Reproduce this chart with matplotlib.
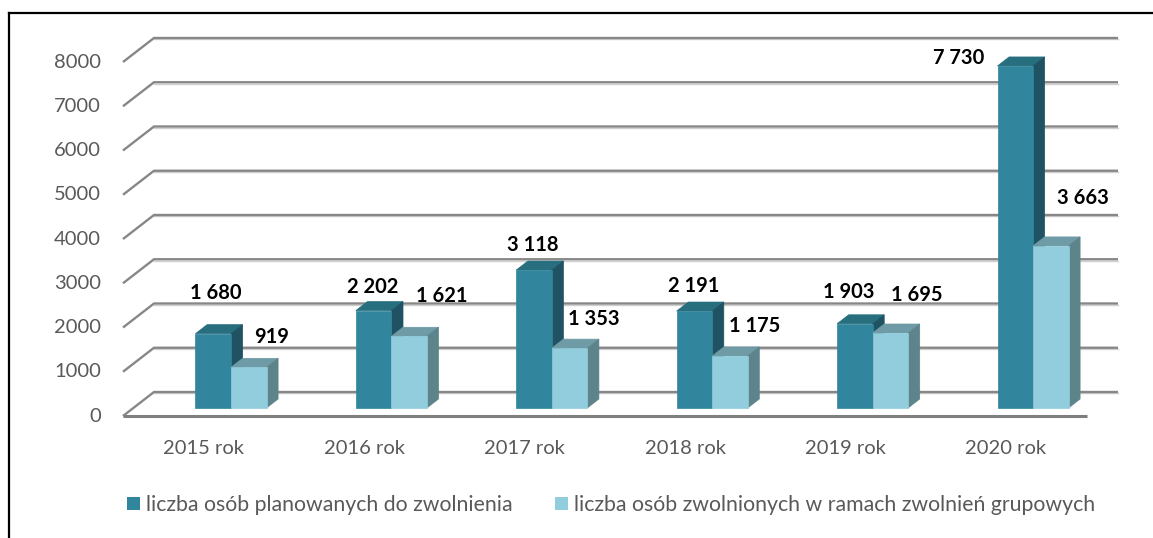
import numpy as np
import matplotlib
matplotlib.use('Agg')
import matplotlib.pyplot as plt
from matplotlib.patches import Polygon, Patch
from matplotlib.lines import Line2D

plt.rcParams['font.family'] = ['Lato', 'DejaVu Sans']

# data
years = ['2015 rok', '2016 rok', '2017 rok', '2018 rok', '2019 rok', '2020 rok']
planned = [1680, 2202, 3118, 2191, 1903, 7730]
dismissed = [919, 1621, 1353, 1175, 1695, 3663]
series_names = ['liczba osób planowanych do zwolnienia',
                'liczba osób zwolnionych w ramach zwolnień grupowych']
yticks = list(range(0, 8001, 1000))

# label offsets in pixels (manual placement as in the source)
lab_off = [
    [(3, 41), (-1, 24), (-1, 25), (-1, 25), (-6, 32), (-57, 8)],
    [(23, 30), (33, 40), (24, 29), (25, 30), (26, 38), (32, 48)],
]

# colours: front, top, side
cols = [('#31859C', '#276E7F', '#1F5262'),
        ('#92CDDD', '#6E9BA6', '#5D838B')]

W, H = 1153, 538
fig = plt.figure(figsize=(W / 100, H / 100), dpi=100)
ax = fig.add_axes([0, 0, 1, 1])

# pixel mapping (bar plane)
cx0, cstep = 231.0, 160.4      # px of first category, px per category
vy0, vscale = 408.0, 0.04425   # px of value 0, px per unit
ax.set_xlim((0 - cx0) / cstep, (W - cx0) / cstep)
ax.set_ylim((vy0 - H) / vscale, vy0 / vscale)
ax.axis('off')

def px_x(d):
    return d / cstep

def px_v(d):
    return d / vscale

# depth vector (front -> back) in px: 31 right, 24 up; bar plane at 1/3
def depth(d):
    return px_x(31 * (d - 1 / 3)), px_v(24 * (d - 1 / 3))

x_front_left = (123 - cx0) / cstep
x_front_right = (1087 - cx0) / cstep

# grid lines (back wall + left wall diagonal)
fdx, fdv = depth(0)
bdx, bdv = depth(1)
xl = x_front_left
xb = xl + (bdx - fdx)
xr = x_front_right + (bdx - fdx)
for v in yticks:
    ax.plot([xb, xr], [v + bdv - px_v(1.3)] * 2, color='#d0d0d0', lw=1.0, zorder=0.9)
    ax.plot([xl, xb, xr], [v + fdv, v + bdv, v + bdv], color='#878787', lw=1.7,
            solid_capstyle='butt', solid_joinstyle='miter', zorder=1)
    ax.text(xl - px_x(22), v + fdv, str(v), ha='right', va='center',
            fontsize=14.5, color='#595959')

# floor front edge
ax.plot([x_front_left, x_front_right], [fdv, fdv], color='#7f7f7f', lw=2.2,
        solid_capstyle='butt', zorder=1)

# bars
bw = 35.5 / cstep
ddx, ddv = px_x(11.6), px_v(9)
x = np.arange(len(years))
for s, vals in enumerate([planned, dismissed]):
    front, top, side = cols[s]
    xs = x + (s - 0.5) * bw
    ax.bar(xs, vals, width=bw, color=front, edgecolor=front, lw=0.5, zorder=3 + s)
    for i, v in enumerate(vals):
        l, r = xs[i] - bw / 2, xs[i] + bw / 2
        ax.add_patch(Polygon([[l, v], [r, v], [r + ddx, v + ddv], [l + ddx, v + ddv]],
                             closed=True, fc=top, ec=top, lw=0.5, zorder=2.9 + s))
        ax.add_patch(Polygon([[r, 0], [r + ddx, ddv], [r + ddx, v + ddv], [r, v]],
                             closed=True, fc=side, ec=side, lw=0.5, zorder=2.9 + s))
        ox, oy = lab_off[s][i]
        txt = '{:,}'.format(v).replace(',', ' ')
        ax.annotate(txt, (xs[i], v), xytext=(ox, oy), textcoords='offset pixels',
                    ha='center', va='center', fontsize=14.5, fontweight='bold',
                    color='black', zorder=10)

# category labels
for i, lab in enumerate(years):
    ax.text(i - px_x(27), fdv - px_v(32), lab, ha='center', va='center',
            fontsize=14.5, color='#595959')

# legend
handles = [Patch(facecolor=cols[0][0]), Patch(facecolor=cols[1][0])]
fig.legend(handles, series_names, loc='center', bbox_to_anchor=(611 / W, 1 - 505 / H),
           ncol=2, frameon=False, fontsize=15.3, labelcolor='#595959',
           handlelength=0.6, handleheight=0.6, handletextpad=0.3, columnspacing=2.0)

# outer frame (only top and left visible)
fig.add_artist(Line2D([8.5 / W, 8.5 / W], [0, 1 - 12.5 / H], transform=fig.transFigure,
                      color='black', lw=1.6))
fig.add_artist(Line2D([8.5 / W, 1], [1 - 12.5 / H, 1 - 12.5 / H], transform=fig.transFigure,
                      color='black', lw=1.6))

fig.savefig('out.png', dpi=100)
